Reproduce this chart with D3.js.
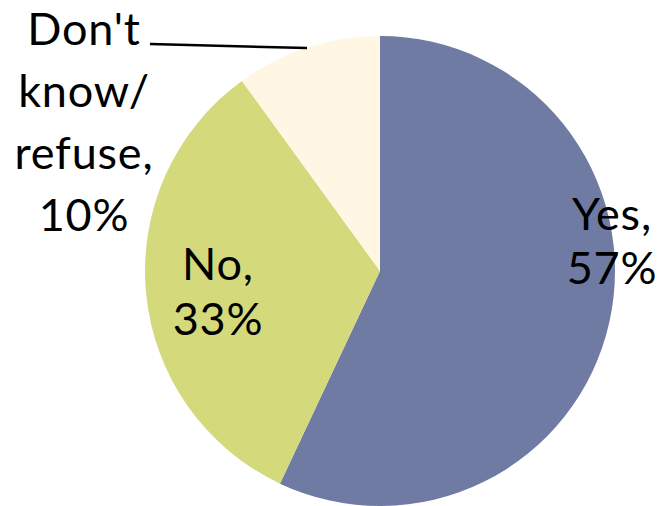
<!DOCTYPE html>
<html>
<head>
<meta charset="utf-8">
<script src="https://cdn.jsdelivr.net/npm/d3@7"></script>
<style>
  html, body { margin: 0; padding: 0; background: #fff; }
  svg text { font-family: Lato, "Open Sans", sans-serif; fill: #000; }
</style>
</head>
<body>
<svg id="chart" width="658" height="506"></svg>
<script>
// Survey responses, share of respondents (%)
const categories = ["Yes", "No", "Don't know/ refuse"];
const values = [57, 33, 10];
const colors = ["#6f7ba3", "#d4d97c", "#fff6e3"];
// Label lines per slice
const labelLines = [["Yes,", "57%"], ["No,", "33%"], ["Don't", "know/", "refuse,", "10%"]];

const svg = d3.select("#chart");
const cx = 380, cy = 271, r = 235;

const pie = d3.pie().sort(null).value(d => d)(values);
const arc = d3.arc().innerRadius(0).outerRadius(r);

const g = svg.append("g").attr("transform", `translate(${cx},${cy})`);
g.selectAll("path")
  .data(pie)
  .join("path")
  .attr("d", arc)
  .attr("fill", (d, i) => colors[i]);

// Label anchor positions and line spacing
const fontSize = 45;
const labelPos = [
  { x: 612, y: 230, step: 54 },
  { x: 218, y: 280, step: 55 },
  { x: 84, y: 45, step: 62 }
];

labelLines.forEach((lines, i) => {
  const t = svg.append("text")
    .attr("text-anchor", "middle")
    .attr("font-size", fontSize)
    .attr("letter-spacing", 0.8);
  lines.forEach((s, j) => {
    t.append("tspan")
      .attr("x", labelPos[i].x)
      .attr("y", labelPos[i].y + j * labelPos[i].step)
      .text(s);
  });
});

// Leader line from the small slice to its label
svg.append("line")
  .attr("x1", 150).attr("y1", 44)
  .attr("x2", 307).attr("y2", 48)
  .attr("stroke", "#000")
  .attr("stroke-width", 2.5);
</script>
</body>
</html>
